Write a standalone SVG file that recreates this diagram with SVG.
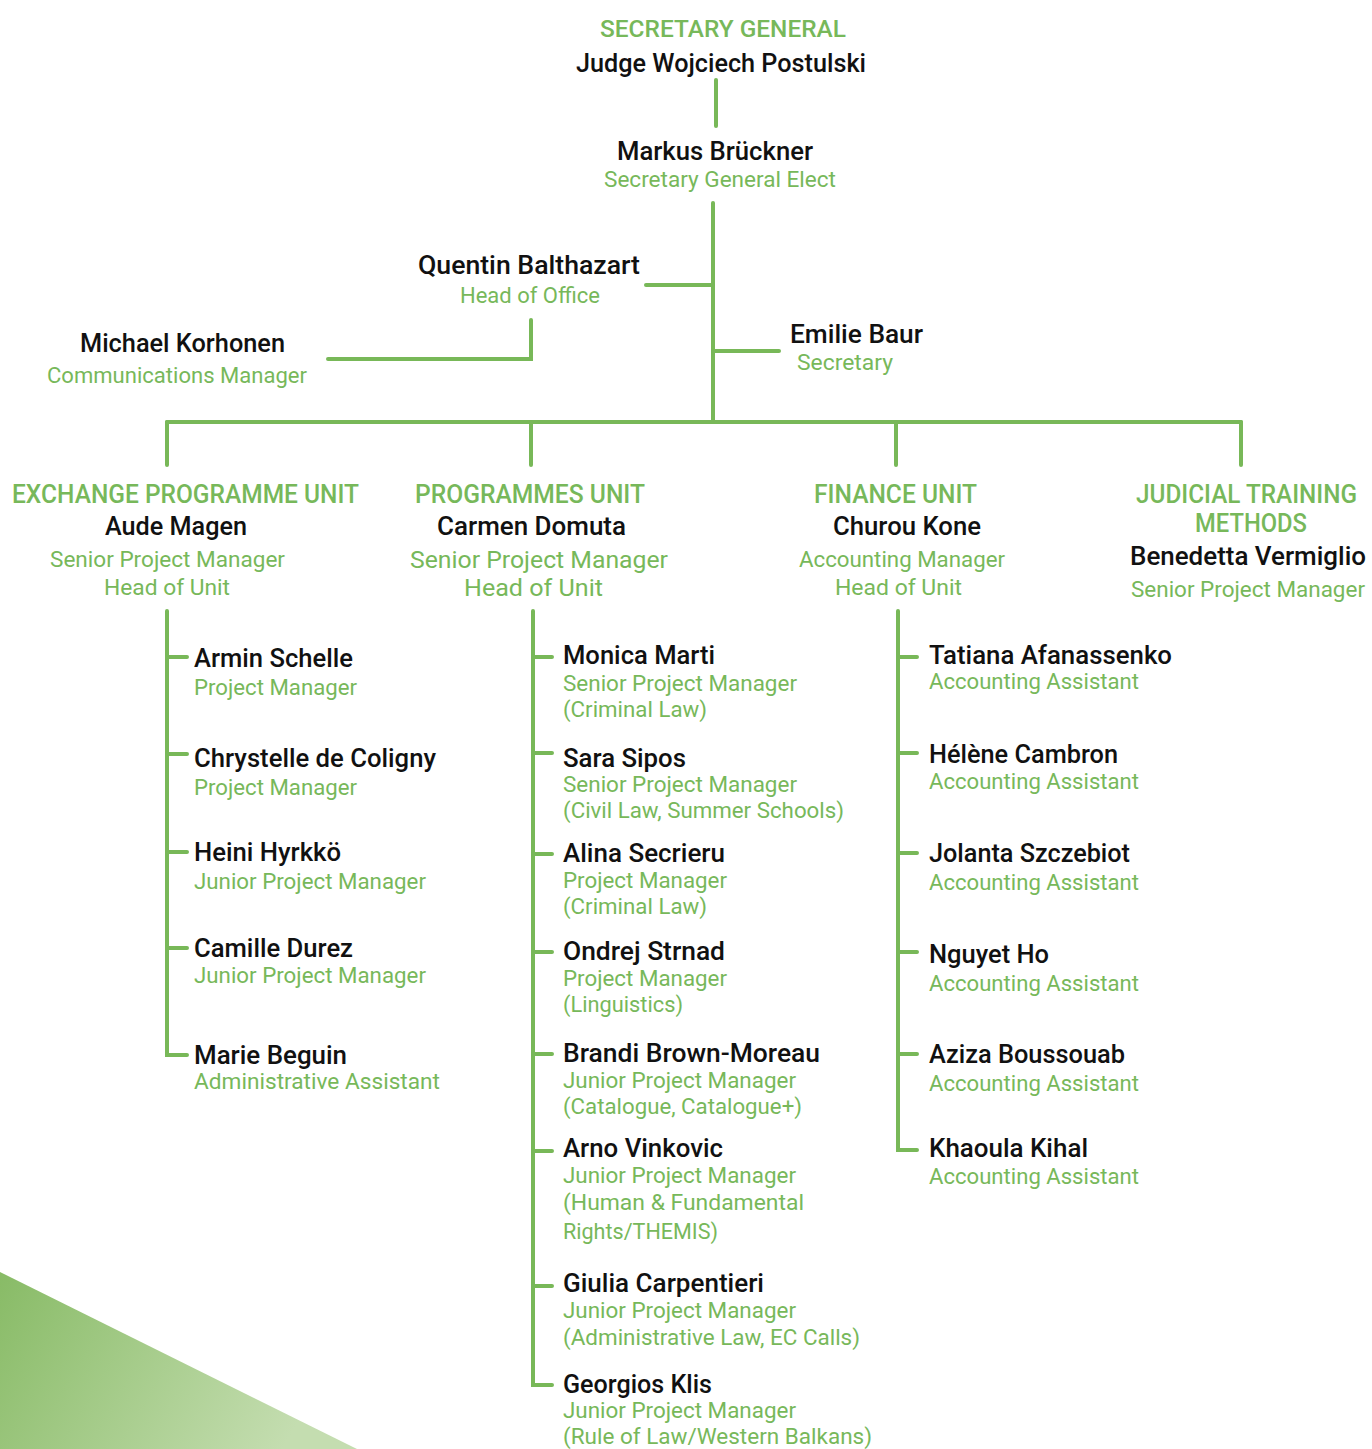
<svg xmlns="http://www.w3.org/2000/svg" width="1372" height="1449" viewBox="0 0 1372 1449">
<defs>
<linearGradient id="tri" x1="0" y1="0" x2="1" y2="0.3">
<stop offset="0" stop-color="#88bb66"/>
<stop offset="1" stop-color="#c4ddb0"/>
</linearGradient>
<style>
text{font-family:Roboto,"Liberation Sans",sans-serif;}
.n{fill:#111111;font-size:25px;font-weight:500;}
.g{fill:#77b85a;font-size:22px;}
.h{fill:#77b85a;font-size:25px;font-weight:500;}
.c path{fill:none;stroke:#78b858;stroke-width:4;stroke-linecap:round;stroke-linejoin:miter;}
</style>
</defs>
<rect width="1372" height="1449" fill="#ffffff"/>
<polygon points="0,1272 357,1449 0,1449" fill="url(#tri)"/>

<g id="connectors" class="c">
<path d="M716,80 V126"/>
<path d="M713,203 V422"/>
<path d="M646,285 H713"/>
<path d="M713,351 H779"/>
<path d="M531,320 V359 H328"/>
<path d="M167,422 H1241"/>
<path d="M167,422 V465 M531,422 V465 M896,422 V465 M1241,422 V465"/>
<path d="M167,611 V1055 H187 M167,657 H187 M167,754 H187 M167,852 H187 M167,948 H187"/>
<path d="M533,611 V1385 H552 M533,657 H552 M533,753 H552 M533,854 H552 M533,952 H552 M533,1054 H552 M533,1151 H552 M533,1286 H552"/>
<path d="M898,611 V1150 H917 M898,657 H917 M898,753 H917 M898,853 H917 M898,952 H917 M898,1054 H917"/>
</g>

<g id="secretary-general">
<text class="h" x="600" y="37" textLength="246" lengthAdjust="spacingAndGlyphs" style="font-size:23px">SECRETARY GENERAL</text>
<text class="n" x="576" y="72" textLength="290" lengthAdjust="spacingAndGlyphs" style="font-size:26px">Judge Wojciech Postulski</text>
</g>
<g id="markus-bruckner">
<text class="n" x="617" y="160" textLength="196" lengthAdjust="spacingAndGlyphs">Markus Brückner</text>
<text class="g" x="604" y="187" textLength="232" lengthAdjust="spacingAndGlyphs">Secretary General Elect</text>
</g>
<g id="quentin-balthazart">
<text class="n" x="418" y="274" textLength="222" lengthAdjust="spacingAndGlyphs">Quentin Balthazart</text>
<text class="g" x="460" y="303" textLength="140" lengthAdjust="spacingAndGlyphs">Head of Office</text>
</g>
<g id="michael-korhonen">
<text class="n" x="80" y="352" textLength="205" lengthAdjust="spacingAndGlyphs">Michael Korhonen</text>
<text class="g" x="47" y="383" textLength="260" lengthAdjust="spacingAndGlyphs">Communications Manager</text>
</g>
<g id="emilie-baur">
<text class="n" x="790" y="343" textLength="133" lengthAdjust="spacingAndGlyphs">Emilie Baur</text>
<text class="g" x="797" y="370" textLength="96" lengthAdjust="spacingAndGlyphs">Secretary</text>
</g>

<g id="exchange-programme-unit">
<text class="h" x="12" y="503" textLength="347" lengthAdjust="spacingAndGlyphs">EXCHANGE PROGRAMME UNIT</text>
<text class="n" x="105" y="535" textLength="142" lengthAdjust="spacingAndGlyphs">Aude Magen</text>
<text class="g" x="50" y="567" textLength="235" lengthAdjust="spacingAndGlyphs">Senior Project Manager</text>
<text class="g" x="104" y="595" textLength="126" lengthAdjust="spacingAndGlyphs">Head of Unit</text>
</g>
<g id="programmes-unit">
<text class="h" x="415" y="503" textLength="230" lengthAdjust="spacingAndGlyphs">PROGRAMMES UNIT</text>
<text class="n" x="437" y="535" textLength="189" lengthAdjust="spacingAndGlyphs">Carmen Domuta</text>
<text class="g" x="410" y="568" textLength="258" lengthAdjust="spacingAndGlyphs" style="font-size:24px">Senior Project Manager</text>
<text class="g" x="464" y="596" textLength="139" lengthAdjust="spacingAndGlyphs" style="font-size:24px">Head of Unit</text>
</g>
<g id="finance-unit">
<text class="h" x="814" y="503" textLength="163" lengthAdjust="spacingAndGlyphs">FINANCE UNIT</text>
<text class="n" x="833" y="535" textLength="148" lengthAdjust="spacingAndGlyphs">Churou Kone</text>
<text class="g" x="799" y="567" textLength="206" lengthAdjust="spacingAndGlyphs">Accounting Manager</text>
<text class="g" x="835" y="595" textLength="127" lengthAdjust="spacingAndGlyphs">Head of Unit</text>
</g>
<g id="judicial-training-methods">
<text class="h" x="1136" y="503" textLength="221" lengthAdjust="spacingAndGlyphs">JUDICIAL TRAINING</text>
<text class="h" x="1195" y="532" textLength="112" lengthAdjust="spacingAndGlyphs">METHODS</text>
<text class="n" x="1130" y="565" textLength="236" lengthAdjust="spacingAndGlyphs">Benedetta Vermiglio</text>
<text class="g" x="1131" y="597" textLength="234" lengthAdjust="spacingAndGlyphs">Senior Project Manager</text>
</g>

<g id="armin-schelle">
<text class="n" x="194" y="667" textLength="159" lengthAdjust="spacingAndGlyphs">Armin Schelle</text>
<text class="g" x="194" y="695" textLength="163" lengthAdjust="spacingAndGlyphs">Project Manager</text>
</g>
<g id="chrystelle-de-coligny">
<text class="n" x="194" y="767" textLength="242" lengthAdjust="spacingAndGlyphs">Chrystelle de Coligny</text>
<text class="g" x="194" y="795" textLength="163" lengthAdjust="spacingAndGlyphs">Project Manager</text>
</g>
<g id="heini-hyrkko">
<text class="n" x="194" y="861" textLength="147" lengthAdjust="spacingAndGlyphs">Heini Hyrkkö</text>
<text class="g" x="194" y="889" textLength="232" lengthAdjust="spacingAndGlyphs">Junior Project Manager</text>
</g>
<g id="camille-durez">
<text class="n" x="194" y="957" textLength="159" lengthAdjust="spacingAndGlyphs">Camille Durez</text>
<text class="g" x="194" y="983" textLength="232" lengthAdjust="spacingAndGlyphs">Junior Project Manager</text>
</g>
<g id="marie-beguin">
<text class="n" x="194" y="1064" textLength="153" lengthAdjust="spacingAndGlyphs">Marie Beguin</text>
<text class="g" x="194" y="1089" textLength="246" lengthAdjust="spacingAndGlyphs">Administrative Assistant</text>
</g>

<g id="monica-marti">
<text class="n" x="563" y="664" textLength="152" lengthAdjust="spacingAndGlyphs">Monica Marti</text>
<text class="g" x="563" y="691" textLength="234" lengthAdjust="spacingAndGlyphs">Senior Project Manager</text>
<text class="g" x="563" y="717" textLength="144" lengthAdjust="spacingAndGlyphs">(Criminal Law)</text>
</g>
<g id="sara-sipos">
<text class="n" x="563" y="767" textLength="123" lengthAdjust="spacingAndGlyphs">Sara Sipos</text>
<text class="g" x="563" y="792" textLength="234" lengthAdjust="spacingAndGlyphs">Senior Project Manager</text>
<text class="g" x="563" y="818" textLength="281" lengthAdjust="spacingAndGlyphs">(Civil Law, Summer Schools)</text>
</g>
<g id="alina-secrieru">
<text class="n" x="563" y="862" textLength="162" lengthAdjust="spacingAndGlyphs">Alina Secrieru</text>
<text class="g" x="563" y="888" textLength="164" lengthAdjust="spacingAndGlyphs">Project Manager</text>
<text class="g" x="563" y="914" textLength="144" lengthAdjust="spacingAndGlyphs">(Criminal Law)</text>
</g>
<g id="ondrej-strnad">
<text class="n" x="563" y="960" textLength="162" lengthAdjust="spacingAndGlyphs">Ondrej Strnad</text>
<text class="g" x="563" y="986" textLength="164" lengthAdjust="spacingAndGlyphs">Project Manager</text>
<text class="g" x="563" y="1012" textLength="120" lengthAdjust="spacingAndGlyphs">(Linguistics)</text>
</g>
<g id="brandi-brown-moreau">
<text class="n" x="563" y="1062" textLength="257" lengthAdjust="spacingAndGlyphs">Brandi Brown-Moreau</text>
<text class="g" x="563" y="1088" textLength="233" lengthAdjust="spacingAndGlyphs">Junior Project Manager</text>
<text class="g" x="563" y="1114" textLength="239" lengthAdjust="spacingAndGlyphs">(Catalogue, Catalogue+)</text>
</g>
<g id="arno-vinkovic">
<text class="n" x="563" y="1157" textLength="160" lengthAdjust="spacingAndGlyphs">Arno Vinkovic</text>
<text class="g" x="563" y="1183" textLength="233" lengthAdjust="spacingAndGlyphs">Junior Project Manager</text>
<text class="g" x="563" y="1210" textLength="241" lengthAdjust="spacingAndGlyphs">(Human &amp; Fundamental</text>
<text class="g" x="563" y="1239" textLength="155" lengthAdjust="spacingAndGlyphs">Rights/THEMIS)</text>
</g>
<g id="giulia-carpentieri">
<text class="n" x="563" y="1292" textLength="201" lengthAdjust="spacingAndGlyphs">Giulia Carpentieri</text>
<text class="g" x="563" y="1318" textLength="233" lengthAdjust="spacingAndGlyphs">Junior Project Manager</text>
<text class="g" x="563" y="1345" textLength="297" lengthAdjust="spacingAndGlyphs">(Administrative Law, EC Calls)</text>
</g>
<g id="georgios-klis">
<text class="n" x="563" y="1393" textLength="149" lengthAdjust="spacingAndGlyphs">Georgios Klis</text>
<text class="g" x="563" y="1418" textLength="233" lengthAdjust="spacingAndGlyphs">Junior Project Manager</text>
<text class="g" x="563" y="1444" textLength="309" lengthAdjust="spacingAndGlyphs">(Rule of Law/Western Balkans)</text>
</g>

<g id="tatiana-afanassenko">
<text class="n" x="929" y="664" textLength="243" lengthAdjust="spacingAndGlyphs">Tatiana Afanassenko</text>
<text class="g" x="929" y="689" textLength="210" lengthAdjust="spacingAndGlyphs">Accounting Assistant</text>
</g>
<g id="helene-cambron">
<text class="n" x="929" y="763" textLength="189" lengthAdjust="spacingAndGlyphs">Hélène Cambron</text>
<text class="g" x="929" y="789" textLength="210" lengthAdjust="spacingAndGlyphs">Accounting Assistant</text>
</g>
<g id="jolanta-szczebiot">
<text class="n" x="929" y="862" textLength="201" lengthAdjust="spacingAndGlyphs">Jolanta Szczebiot</text>
<text class="g" x="929" y="890" textLength="210" lengthAdjust="spacingAndGlyphs">Accounting Assistant</text>
</g>
<g id="nguyet-ho">
<text class="n" x="929" y="963" textLength="120" lengthAdjust="spacingAndGlyphs">Nguyet Ho</text>
<text class="g" x="929" y="991" textLength="210" lengthAdjust="spacingAndGlyphs">Accounting Assistant</text>
</g>
<g id="aziza-boussouab">
<text class="n" x="929" y="1063" textLength="196" lengthAdjust="spacingAndGlyphs">Aziza Boussouab</text>
<text class="g" x="929" y="1091" textLength="210" lengthAdjust="spacingAndGlyphs">Accounting Assistant</text>
</g>
<g id="khaoula-kihal">
<text class="n" x="929" y="1157" textLength="159" lengthAdjust="spacingAndGlyphs">Khaoula Kihal</text>
<text class="g" x="929" y="1184" textLength="210" lengthAdjust="spacingAndGlyphs">Accounting Assistant</text>
</g>
</svg>
